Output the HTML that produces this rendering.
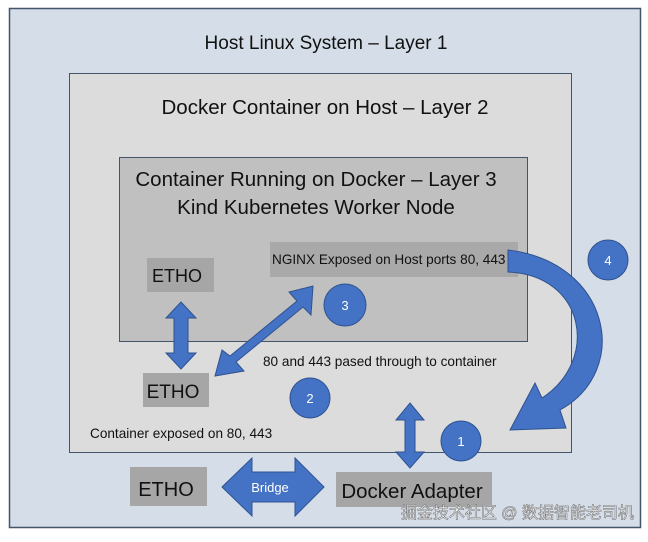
<!DOCTYPE html>
<html><head><style>
body{margin:0;width:648px;height:537px;background:#fff;overflow:hidden}
svg text{font-family:"Liberation Sans","Noto Sans CJK SC",sans-serif}
</style></head><body>
<svg width="648" height="537" viewBox="0 0 648 537">
<rect x="9.5" y="8.5" width="631" height="519" fill="#d5dde8" stroke="#44546a" stroke-width="1.5"/>
<text x="326" y="49" font-size="19" text-anchor="middle" fill="#111">Host Linux System – Layer 1</text>
<rect x="69.5" y="73.5" width="502" height="379" fill="#dcdcdc" stroke="#44546a" stroke-width="1"/>
<text x="325" y="114" font-size="20.5" text-anchor="middle" fill="#111">Docker Container on Host – Layer 2</text>
<rect x="119.5" y="157.5" width="408" height="184" fill="#c1c0c0" stroke="#44546a" stroke-width="1"/>
<text x="316" y="186" font-size="20.5" text-anchor="middle" fill="#111">Container Running on Docker – Layer 3</text>
<text x="316" y="214" font-size="20.5" text-anchor="middle" fill="#111">Kind Kubernetes Worker Node</text>
<rect x="270" y="242" width="248" height="35" fill="#a9a9a9"/>
<text x="272" y="264" font-size="13.6" fill="#111">NGINX Exposed on Host ports 80, 443</text>
<rect x="147" y="258" width="67" height="34" fill="#a6a6a6"/>
<text x="177" y="282" font-size="18" text-anchor="middle" fill="#111">ETHO</text>
<rect x="143" y="373" width="66" height="34" fill="#a6a6a6"/>
<text x="173" y="398" font-size="19" text-anchor="middle" fill="#111">ETHO</text>
<text x="263" y="366" font-size="13.6" fill="#111">80 and 443 pased through to container</text>
<text x="90" y="438" font-size="13.6" fill="#111">Container exposed on 80, 443</text>
<rect x="130" y="467" width="77" height="39" fill="#a6a6a6"/>
<text x="166" y="496" font-size="20" text-anchor="middle" fill="#111">ETHO</text>
<rect x="336" y="472" width="156" height="35" fill="#a6a6a6"/>
<text x="412" y="498" font-size="20.5" text-anchor="middle" fill="#111">Docker Adapter</text>
<g fill="#4472c4" stroke="#2f528f" stroke-width="1">
<polygon points="181,302 196,318 188,318 188,353 196,353 181,369 166,353 174,353 174,318 166,318"/>
<polygon points="313,286 311,315 303,307 236,362 244,371 215,376 222,350 230,356 297,301 289,292"/>
<polygon points="222,487 252,458 252,472 295,472 295,458 324,487 295,516 295,502 252,502 252,516"/>
<polygon points="410,403 424,420 415,420 415,452 424,452 410,468 396,452 405,452 405,420 396,420"/>
<path d="M508,250 C610,262 632,370 560,410 L566,428 L510,430 L535,383 L542,398 C600,360 585,275 508,272 Z"/>
<circle cx="608" cy="260" r="20"/>
<circle cx="345" cy="305" r="21"/>
<circle cx="310" cy="398" r="20"/>
<circle cx="461" cy="441" r="20"/>
</g>
<g fill="#fff" font-size="13" text-anchor="middle">
<text x="608" y="265">4</text><text x="345" y="310">3</text>
<text x="310" y="403">2</text><text x="461" y="446">1</text>
<text x="270" y="492">Bridge</text>
</g>
<text x="634" y="518" font-size="16" text-anchor="end" fill="#fff" stroke="#777" stroke-width="0.6">掘金技术社区 @ 数据智能老司机</text>
</svg>
</body></html>
